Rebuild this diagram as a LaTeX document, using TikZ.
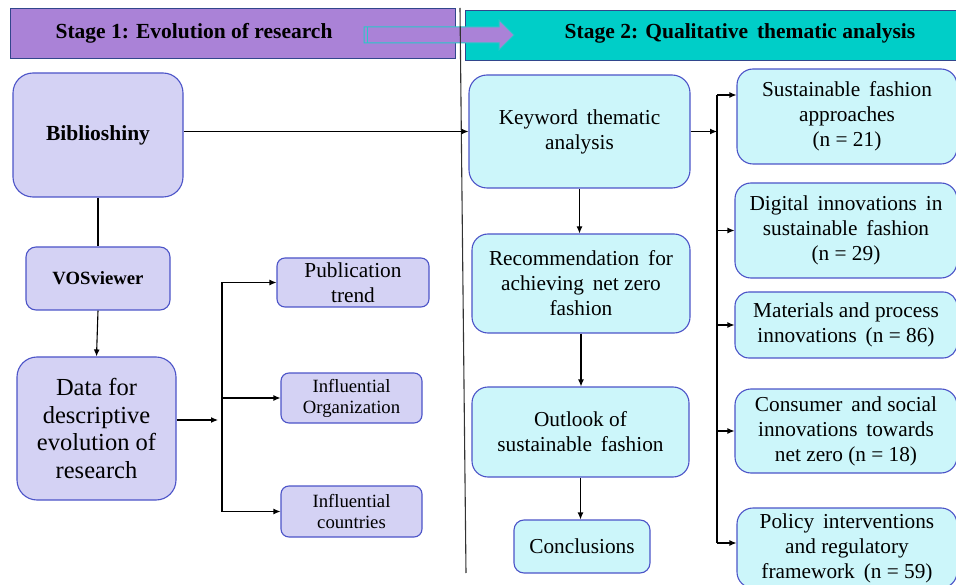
\documentclass[tikz,border=0pt]{standalone}
\usepackage{fontspec}
\setmainfont{Liberation Serif}
\usetikzlibrary{arrows.meta}
\definecolor{hdrA}{RGB}{170,130,215}
\definecolor{hdrB}{RGB}{0,206,200}
\definecolor{boxA}{RGB}{212,210,244}
\definecolor{boxB}{RGB}{204,246,250}
\definecolor{edgeC}{RGB}{76,84,200}
\definecolor{hdrEdge}{RGB}{50,70,140}
\definecolor{arrEdge}{RGB}{40,200,200}
\tikzset{
  boxL/.style={draw=edgeC, line width=1.1pt, fill=boxA, align=center, inner sep=0pt},
  boxR/.style={draw=edgeC, line width=1.1pt, fill=boxB, align=center, inner sep=0pt},
  hdr/.style={draw=hdrEdge, line width=0.9pt, inner sep=0pt},
  arr/.style={-{Latex[length=7pt,width=6pt]}, line width=1.1pt},
  ln/.style={line width=1.1pt},
  fbig/.style={font=\fontsize{24.5}{27.5}\selectfont},
  fmid/.style={font=\fontsize{21.3}{25}\selectfont},
  fpub/.style={font=\fontsize{21.3}{25}\selectfont},
  fsml/.style={font=\fontsize{18.7}{21}\selectfont},
  fbold/.style={font=\fontsize{21.5}{24}\selectfont\bfseries},
}
\begin{document}
\begin{tikzpicture}[x=1pt,y=-1pt]
\useasboundingbox (0,0) rectangle (956,585);
\begin{scope}
\clip (0,0) rectangle (956,585);
% headers
\node[hdr, fill=hdrA, minimum width=445pt, minimum height=50pt] (h1) at (232.5,33) {};
\node[hdr, fill=hdrB, minimum width=520pt, minimum height=50pt] (h2) at (725,35) {};
\node[fbold] (t1) at (194,33) {Stage 1: Evolution of research};
\node[fbold] (t2) at (740,33) {Stage 2: Qualitative\, thematic analysis};
% block arrow
\draw[draw=arrEdge, line width=1pt, fill=hdrA] (364,27) -- (499,27) -- (499,20) -- (514,35) -- (499,50) -- (499,43) -- (364,43) -- cycle;
\draw[arrEdge, line width=0.8pt] (367,27) -- (367,43);
% divider
\coordinate (d1) at (460,8);
\coordinate (d2) at (466,573);
\draw[line width=1.1pt, black!80] (d1) -- (d2);

% left boxes
\node[boxL, rounded corners=20pt, minimum width=170pt, minimum height=124pt, fbold] (bib) at (98,135) {Biblioshiny};
\node[boxL, rounded corners=10pt, minimum width=144pt, minimum height=63pt, font=\fontsize{18.7}{22}\selectfont\bfseries] (vos) at (98,278.5) {VOSviewer};
\node[boxL, rounded corners=20pt, minimum width=159pt, minimum height=143pt, fbig] (data) at (96.5,428.5) {Data for\\descriptive\\evolution of\\research};
\node[boxL, rounded corners=8pt, minimum width=152pt, minimum height=49pt, fpub] (pub) at (353,282.5) {Publication\\trend};
\node[boxL, rounded corners=8pt, minimum width=141pt, minimum height=50pt, fsml] (org) at (351.5,398) {Influential\\Organization};
\node[boxL, rounded corners=8pt, minimum width=141pt, minimum height=51pt, fsml] (cty) at (351.5,511.5) {Influential\\countries};

% right boxes
\node[boxR, rounded corners=18pt, minimum width=221pt, minimum height=113pt, fmid] (kw) at (579.5,131.5) {Keyword\, thematic\\analysis};
\node[boxR, rounded corners=16pt, minimum width=218pt, minimum height=99pt, fmid] (rec) at (581,283.5) {Recommendation\, for\\achieving\, net zero\\fashion};
\node[boxR, rounded corners=16pt, minimum width=217pt, minimum height=90pt, fmid] (out) at (580.5,432) {Outlook of\\sustainable\, fashion};
\node[boxR, rounded corners=10pt, minimum width=136pt, minimum height=53pt, fmid] (con) at (582,546.5) {Conclusions};

\node[boxR, rounded corners=16pt, minimum width=220pt, minimum height=95pt, fmid] (sfa) at (847,116.5) {Sustainable\, fashion\\approaches\\(n = 21)};
\node[boxR, rounded corners=16pt, minimum width=222pt, minimum height=95pt, fmid] (dig) at (846,230.5) {Digital\, innovations\, in\\sustainable\, fashion\\(n = 29)};
\node[boxR, rounded corners=14pt, minimum width=222pt, minimum height=66pt, fmid] (mat) at (846,325) {Materials and process\\innovations\, (n = 86)};
\node[boxR, rounded corners=16pt, minimum width=222pt, minimum height=84pt, fmid] (cons) at (846,431) {Consumer\, and social\\innovations\, towards\\net zero (n = 18)};
\node[boxR, rounded corners=16pt, minimum width=220pt, minimum height=80pt, fmid] (pol) at (847,548) {Policy\, interventions\\and regulatory\\framework\, (n = 59)};

% connectors left
\draw[arr] (bib.east |- kw.west) -- (kw.west);
\draw[ln] (bib.south) -- (vos.north);
\draw[arr] (vos.south) -- (data.north);
\coordinate (jl) at (218,420);
\coordinate (bl) at (222,0);
\draw[arr] (data.east |- jl) -- (jl);
\draw[ln] (bl |- pub.west) -- (bl |- cty.west);
\draw[arr] (bl |- pub.west) -- (pub.west);
\draw[arr] (bl |- org.west) -- (org.west);
\draw[arr] (bl |- cty.west) -- (cty.west);

% connectors right
\draw[arr] (kw.south) -- (kw.south |- rec.north);
\draw[arr] (rec.south) -- (rec.south |- out.north);
\draw[arr] (out.south) -- (out.south |- con.north);
\coordinate (jr) at (717,131.5);
\coordinate (tr) at (717,95);
\coordinate (br) at (717,543);
\draw[arr] (kw.east) -- (jr);
\draw[ln] (tr) -- (br);
\draw[arr] (tr) -- (sfa.west |- tr);
\draw[arr] (tr |- dig.west) -- (dig.west);
\draw[arr] (tr |- mat.west) -- (mat.west);
\draw[arr] (tr |- cons.west) -- (cons.west);
\draw[arr] (br) -- (pol.west |- br);
\end{scope}
\end{tikzpicture}
\end{document}
